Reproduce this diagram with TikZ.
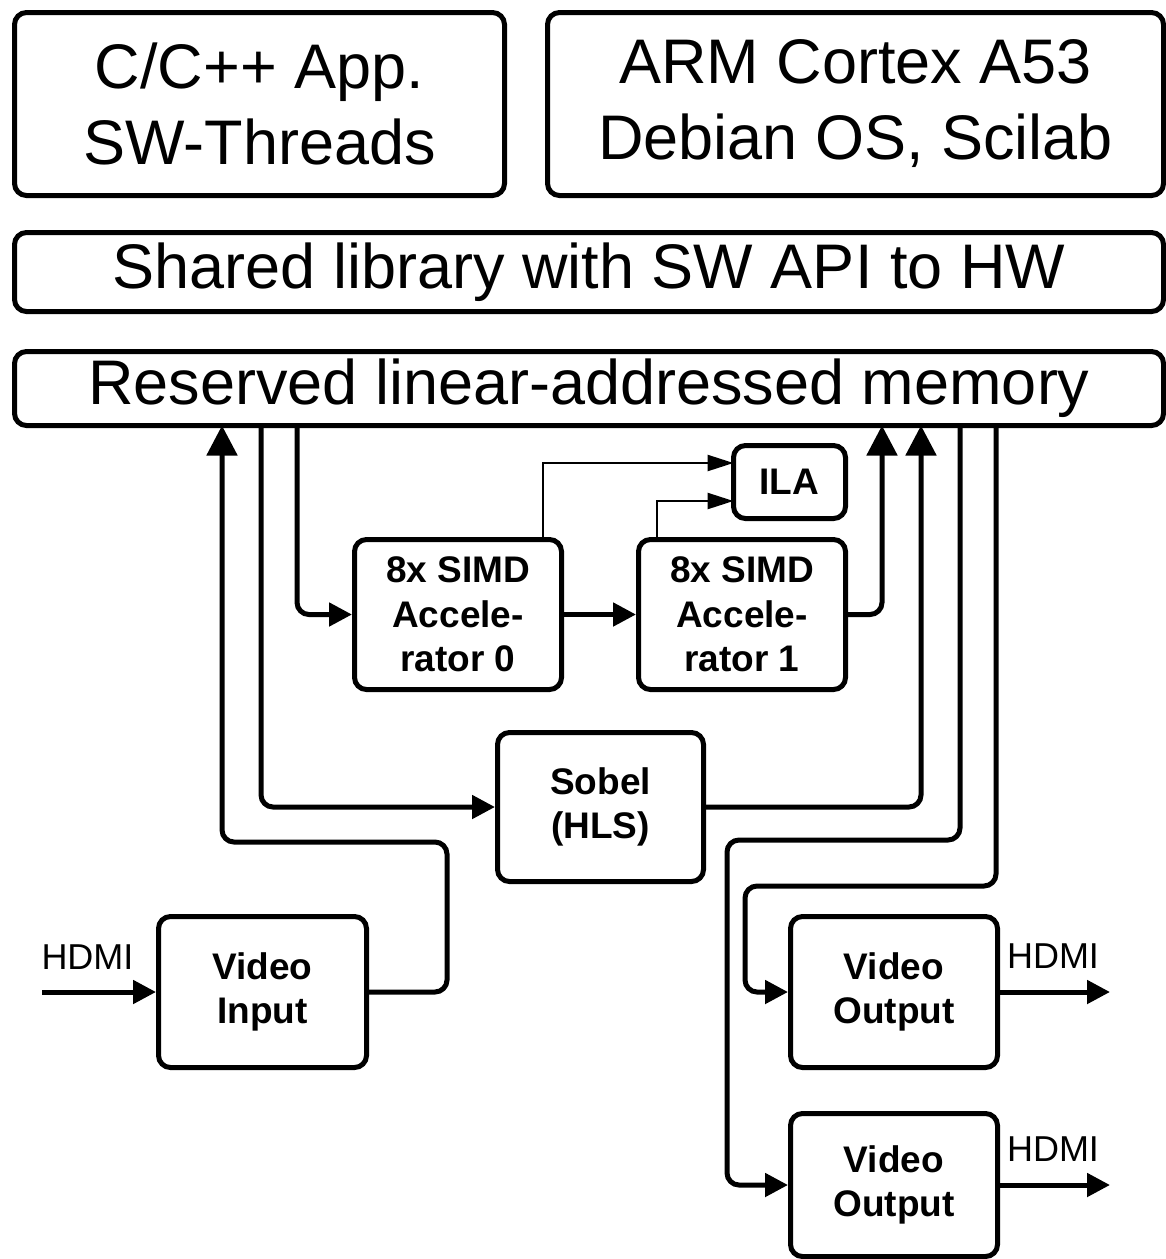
\documentclass[tikz,border=0pt]{standalone}
\usepackage{fontspec}
\setmainfont{Liberation Sans}
\usetikzlibrary{arrows.meta}
\begin{document}
\begin{tikzpicture}[x=1pt,y=-1pt,
  box/.style={draw, line width=5pt, rounded corners=12pt, align=center, inner sep=0pt},
  bigtext/.style={font=\fontsize{63}{76}\selectfont},
  smalltext/.style={font=\fontsize{37}{44.5}\selectfont\bfseries},
  conn/.style={line width=5pt, rounded corners=12pt},
  thinconn/.style={line width=2.5pt},
  tipm/.style={-{Triangle[length=23pt,width=23pt]}},
  tipb/.style={-{Triangle[length=30pt,width=30pt]}},
  tips/.style={-{Triangle[length=26pt,width=16pt]}},
  lbl/.style={font=\fontsize{36}{43}\selectfont, inner sep=0pt}]
\useasboundingbox (0,0) rectangle (1166,1259);

% boxes
\node[box,bigtext,minimum width=490pt,minimum height=183pt] (app) at (259.5,104) {C/C++ App.\\SW-Threads};
\node[box,bigtext,minimum width=616pt,minimum height=183pt] (arm) at (855.5,104) {ARM Cortex A53\\Debian OS, Scilab};
\node[box,bigtext,minimum width=1149pt,minimum height=79pt] (lib) at (589,272) {Shared library with SW API to HW};
\node[box,bigtext,minimum width=1149pt,minimum height=74pt] (mem) at (589,388.5) {Reserved linear-addressed memory};
\node[box,smalltext,minimum width=112pt,minimum height=73pt] (ila) at (789.5,482) {ILA};
\node[box,smalltext,minimum width=207pt,minimum height=150pt] (acc0) at (458,614.5) {8x SIMD\\Accele-\\rator 0};
\node[box,smalltext,minimum width=207pt,minimum height=150pt] (acc1) at (742,614.5) {8x SIMD\\Accele-\\rator 1};
\node[box,smalltext,minimum width=206pt,minimum height=149pt] (sobel) at (600.5,807) {Sobel\\(HLS)};
\node[box,smalltext,minimum width=208pt,minimum height=151pt] (vin) at (262.5,992) {Video\\Input};
\node[box,smalltext,minimum width=207pt,minimum height=151pt] (vo1) at (894,992) {Video\\Output};
\node[box,smalltext,minimum width=207pt,minimum height=143pt] (vo2) at (894,1185) {Video\\Output};

% labels
\node[lbl] (hdmiIn) at (87.5,957) {HDMI};
\node[lbl] (hdmiO1) at (1053,956.5) {HDMI};
\node[lbl] (hdmiO2) at (1053,1149.5) {HDMI};

% coordinates
\coordinate (mt1) at (222,425.5);
\coordinate (mt2) at (261,425.5);
\coordinate (mt3) at (297,425.5);
\coordinate (mt4) at (882,425.5);
\coordinate (mt5) at (921,425.5);
\coordinate (mt6) at (960,425.5);
\coordinate (mt7) at (996,425.5);
\coordinate (b1) at (447,842);
\coordinate (b6) at (727,840);
\coordinate (b7) at (745,886);
\coordinate (a0t) at (543,539.5);
\coordinate (a1t) at (657,539.5);
\coordinate (ilaA) at (733.5,463);
\coordinate (ilaB) at (733.5,501);
\coordinate (hin) at (42,992);
\coordinate (hout1) at (1110,992);
\coordinate (hout2) at (1110,1185);

% connectors
\draw[conn,tipb] (vin.east) -| (b1) -| (mt1);
\draw[conn,tipm] (mt2) |- (sobel.west);
\draw[conn,tipm] (mt3) |- (acc0.west);
\draw[conn,tipm] (acc0.east) -- (acc1.west);
\draw[thinconn,tips] (a0t) |- (ilaA);
\draw[thinconn,tips] (a1t) |- (ilaB);
\draw[conn,tipb] (acc1.east) -| (mt4);
\draw[conn,tipb] (sobel.east) -| (mt5);
\draw[conn,tipm] (mt6) |- (b6) |- (vo2.west);
\draw[conn,tipm] (mt7) |- (b7) |- (vo1.west);
\draw[conn,tipm] (hin) -- (vin.west);
\draw[conn,tipm] (vo1.east) -- (hout1);
\draw[conn,tipm] (vo2.east) -- (hout2);
\end{tikzpicture}
\end{document}
